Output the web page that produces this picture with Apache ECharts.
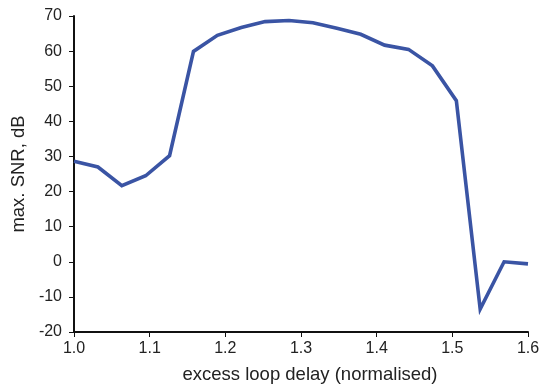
<!DOCTYPE html>
<html>
<head>
<meta charset="utf-8">
<script src="https://cdn.jsdelivr.net/npm/echarts@6/dist/echarts.min.js"></script>
<style>html,body{margin:0;padding:0;background:#fff;}#c{width:544px;height:385px;}</style>
</head>
<body>
<div id="c"></div>
<script>
var delays = [1.0, 1.0316, 1.0632, 1.0947, 1.1263, 1.1579, 1.1895, 1.2211, 1.2526, 1.2842, 1.3158, 1.3474, 1.3789, 1.4105, 1.4421, 1.4737, 1.5053, 1.5368, 1.5684, 1.6];
var snr = [28.6, 27.0, 21.7, 24.5, 30.2, 59.9, 64.5, 66.7, 68.4, 68.7, 68.1, 66.5, 64.8, 61.7, 60.5, 55.8, 45.9, -13.5, 0.0, -0.6];
var xTicks = [1.0, 1.1, 1.2, 1.3, 1.4, 1.5, 1.6];
var yTicks = [-20, -10, 0, 10, 20, 30, 40, 50, 60, 70];

var pts = delays.map(function(d, i){ return [d, snr[i]]; });
var font = 'Liberation Sans, Arial, Helvetica, sans-serif';
var chart = echarts.init(document.getElementById('c'), null, {renderer: 'canvas'});
chart.setOption({
  animation: false,
  grid: {left: 74, right: 16, top: 16, bottom: 53, containLabel: false, outerBoundsMode: 'none'},
  xAxis: {
    type: 'value', min: xTicks[0], max: xTicks[xTicks.length-1], interval: 0.1,
    name: 'excess loop delay (normalised)', nameLocation: 'middle', nameGap: 33,
    nameTextStyle: {fontFamily: font, fontSize: 18.5, color: '#222', padding: [0, 0, 0, 18]},
    axisLine: {show: true, onZero: false, lineStyle: {color: '#111', width: 2}},
    axisTick: {show: true, inside: false, length: 5, lineStyle: {color: '#111', width: 1}},
    axisLabel: {fontFamily: font, fontSize: 16, color: '#222', margin: 9,
      formatter: function(v){ return v.toFixed(1); }},
    splitLine: {show: false}
  },
  yAxis: {
    type: 'value', min: yTicks[0], max: yTicks[yTicks.length-1], interval: 10,
    name: 'max. SNR, dB', nameLocation: 'middle', nameGap: 46, nameRotate: 90,
    nameTextStyle: {fontFamily: font, fontSize: 18.5, color: '#222'},
    axisLine: {show: true, onZero: false, lineStyle: {color: '#111', width: 2}},
    axisTick: {show: true, inside: false, length: 5, lineStyle: {color: '#111', width: 1}},
    axisLabel: {fontFamily: font, fontSize: 16, color: '#222', margin: 12},
    splitLine: {show: false}
  },
  series: [{
    type: 'line', data: pts, showSymbol: false, symbol: 'none',
    lineStyle: {color: '#3a54a4', width: 3.6, join: 'miter'},
    clip: false
  }]
});
</script>
</body>
</html>
